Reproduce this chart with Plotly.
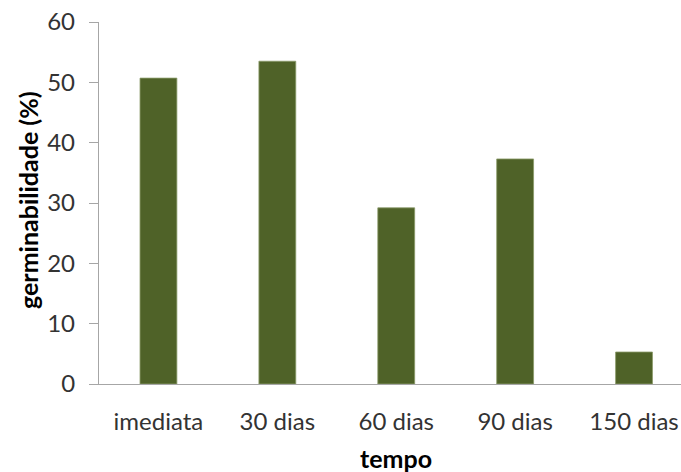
import plotly.graph_objects as go

categories = ["imediata", "30 dias", "60 dias", "90 dias", "150 dias"]
germinabilidade = [50.7, 53.5, 29.2, 37.3, 5.3]
y_ticks = [0, 10, 20, 30, 40, 50, 60]

FONT = "Lato"
TXT = "#333333"
AX = "#A6A6A6"

fig = go.Figure()
fig.add_trace(go.Bar(
    x=categories, y=germinabilidade,
    width=0.31,
    marker=dict(color="#4F6228", line=dict(color="#8A9A6A", width=0.8)),
))

pw = 681 - 99
ph = 472 - 22 - 88

fig.update_layout(
    width=681, height=472,
    margin=dict(l=99, r=0, t=22, b=88),
    plot_bgcolor="white", paper_bgcolor="white",
    showlegend=False,
    font=dict(family=FONT, color=TXT, size=24),
    xaxis=dict(
        range=[-0.5, 4.395],
        showline=True, linecolor=AX, linewidth=1.3,
        ticks="", showgrid=False,
        tickfont=dict(size=24, color=TXT),
        ticklabelstandoff=16,
    ),
    yaxis=dict(
        range=[0, 60], tickvals=y_ticks,
        showline=True, linecolor=AX, linewidth=1.3,
        ticks="outside", ticklen=9, tickcolor=AX, tickwidth=1.3,
        showgrid=False, zeroline=False,
        tickfont=dict(size=24, color=TXT),
        ticklabelstandoff=9,
    ),
    annotations=[
        dict(text="<b>tempo</b>", x=(396 - 99) / pw, y=(472 - 88 - 458) / ph,
             xref="paper", yref="paper", xanchor="center", yanchor="middle",
             showarrow=False, font=dict(size=25, color="black")),
        dict(text="<b>germinabilidade (%)</b>", x=(28 - 99) / pw, y=(472 - 88 - 200) / ph,
             xref="paper", yref="paper", xanchor="center", yanchor="middle",
             textangle=-90, showarrow=False, font=dict(size=25, color="black")),
    ],
)

fig.write_html("out.html")
